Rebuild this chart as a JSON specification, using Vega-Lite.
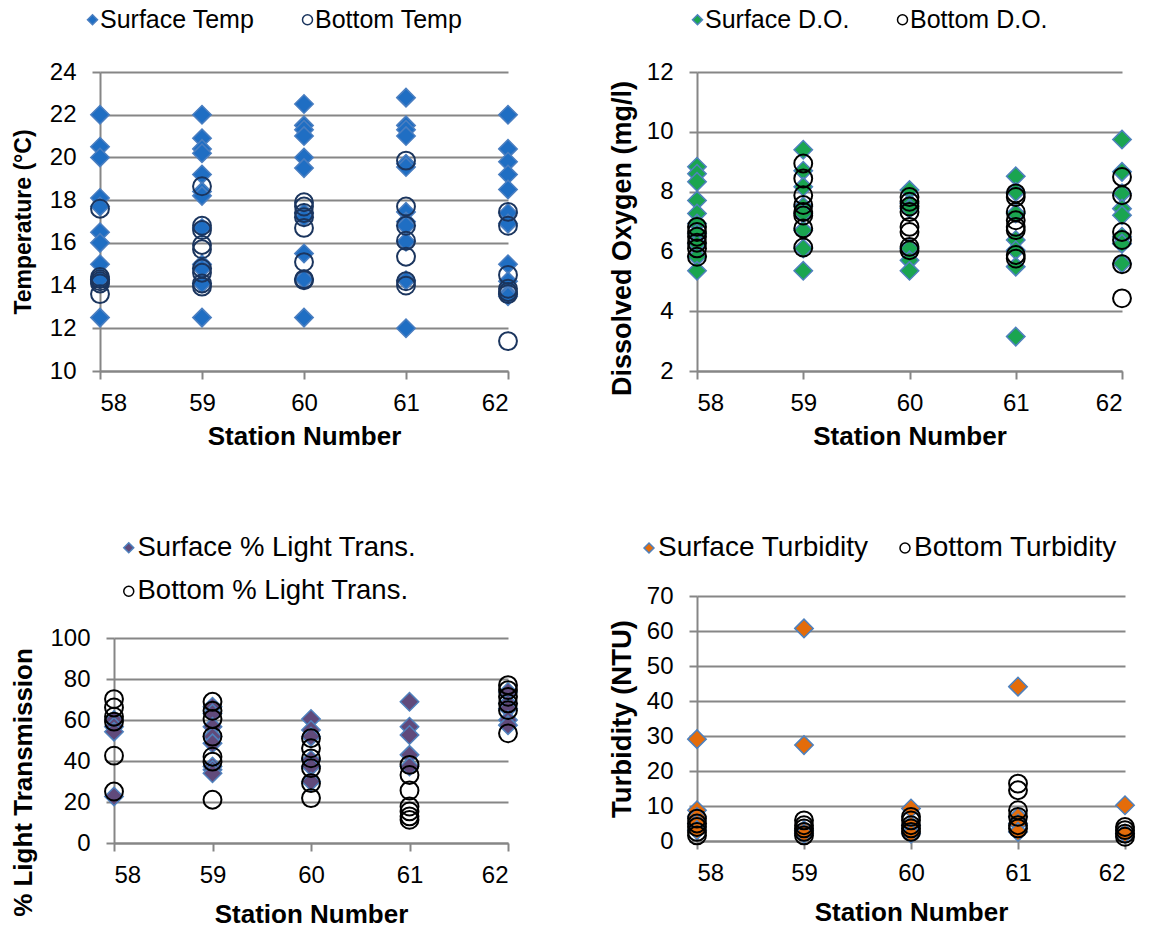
{
  "$schema": "https://vega.github.io/schema/vega-lite/v6.json",
  "background": "white",
  "padding": {"left": 10, "top": 7, "right": 0, "bottom": 0},
  "columns": 2,
  "spacing": {"row": 85, "column": 87},
  "align": "none",
  "bounds": "full",
  "resolve": {
    "scale": {"x": "independent", "y": "independent", "shape": "independent", "fill": "independent", "stroke": "independent"},
    "axis": {"x": "independent", "y": "independent"},
    "legend": {"shape": "independent", "fill": "independent", "stroke": "independent"}
  },
  "datasets": {
    "temp": [
      {"station": 58, "series": "Surface Temp", "value": 22.0},
      {"station": 58, "series": "Surface Temp", "value": 20.5},
      {"station": 58, "series": "Surface Temp", "value": 20.0},
      {"station": 58, "series": "Surface Temp", "value": 18.1},
      {"station": 58, "series": "Surface Temp", "value": 17.7},
      {"station": 58, "series": "Surface Temp", "value": 16.5},
      {"station": 58, "series": "Surface Temp", "value": 16.0},
      {"station": 58, "series": "Surface Temp", "value": 15.0},
      {"station": 58, "series": "Surface Temp", "value": 14.3},
      {"station": 58, "series": "Surface Temp", "value": 12.5},
      {"station": 59, "series": "Surface Temp", "value": 22.0},
      {"station": 59, "series": "Surface Temp", "value": 20.9},
      {"station": 59, "series": "Surface Temp", "value": 20.4},
      {"station": 59, "series": "Surface Temp", "value": 20.2},
      {"station": 59, "series": "Surface Temp", "value": 19.2},
      {"station": 59, "series": "Surface Temp", "value": 18.4},
      {"station": 59, "series": "Surface Temp", "value": 18.2},
      {"station": 59, "series": "Surface Temp", "value": 16.7},
      {"station": 59, "series": "Surface Temp", "value": 15.0},
      {"station": 59, "series": "Surface Temp", "value": 14.8},
      {"station": 59, "series": "Surface Temp", "value": 14.1},
      {"station": 59, "series": "Surface Temp", "value": 12.5},
      {"station": 60, "series": "Surface Temp", "value": 22.5},
      {"station": 60, "series": "Surface Temp", "value": 21.5},
      {"station": 60, "series": "Surface Temp", "value": 21.3},
      {"station": 60, "series": "Surface Temp", "value": 21.0},
      {"station": 60, "series": "Surface Temp", "value": 20.0},
      {"station": 60, "series": "Surface Temp", "value": 19.5},
      {"station": 60, "series": "Surface Temp", "value": 17.4},
      {"station": 60, "series": "Surface Temp", "value": 17.2},
      {"station": 60, "series": "Surface Temp", "value": 15.5},
      {"station": 60, "series": "Surface Temp", "value": 14.3},
      {"station": 60, "series": "Surface Temp", "value": 12.5},
      {"station": 61, "series": "Surface Temp", "value": 22.8},
      {"station": 61, "series": "Surface Temp", "value": 21.5},
      {"station": 61, "series": "Surface Temp", "value": 21.3},
      {"station": 61, "series": "Surface Temp", "value": 21.0},
      {"station": 61, "series": "Surface Temp", "value": 19.7},
      {"station": 61, "series": "Surface Temp", "value": 19.55},
      {"station": 61, "series": "Surface Temp", "value": 17.45},
      {"station": 61, "series": "Surface Temp", "value": 17.0},
      {"station": 61, "series": "Surface Temp", "value": 16.8},
      {"station": 61, "series": "Surface Temp", "value": 16.05},
      {"station": 61, "series": "Surface Temp", "value": 14.25},
      {"station": 61, "series": "Surface Temp", "value": 12.0},
      {"station": 62, "series": "Surface Temp", "value": 22.0},
      {"station": 62, "series": "Surface Temp", "value": 20.4},
      {"station": 62, "series": "Surface Temp", "value": 19.8},
      {"station": 62, "series": "Surface Temp", "value": 19.2},
      {"station": 62, "series": "Surface Temp", "value": 18.5},
      {"station": 62, "series": "Surface Temp", "value": 17.4},
      {"station": 62, "series": "Surface Temp", "value": 16.9},
      {"station": 62, "series": "Surface Temp", "value": 15.0},
      {"station": 62, "series": "Surface Temp", "value": 14.2},
      {"station": 62, "series": "Surface Temp", "value": 13.6},
      {"station": 62, "series": "Surface Temp", "value": 13.5},
      {"station": 58, "series": "Bottom Temp", "value": 17.6},
      {"station": 58, "series": "Bottom Temp", "value": 14.4},
      {"station": 58, "series": "Bottom Temp", "value": 14.3},
      {"station": 58, "series": "Bottom Temp", "value": 14.2},
      {"station": 58, "series": "Bottom Temp", "value": 14.1},
      {"station": 58, "series": "Bottom Temp", "value": 13.6},
      {"station": 59, "series": "Bottom Temp", "value": 18.65},
      {"station": 59, "series": "Bottom Temp", "value": 16.8},
      {"station": 59, "series": "Bottom Temp", "value": 16.6},
      {"station": 59, "series": "Bottom Temp", "value": 15.9},
      {"station": 59, "series": "Bottom Temp", "value": 15.7},
      {"station": 59, "series": "Bottom Temp", "value": 14.8},
      {"station": 59, "series": "Bottom Temp", "value": 14.6},
      {"station": 59, "series": "Bottom Temp", "value": 14.1},
      {"station": 59, "series": "Bottom Temp", "value": 13.95},
      {"station": 60, "series": "Bottom Temp", "value": 17.9},
      {"station": 60, "series": "Bottom Temp", "value": 17.7},
      {"station": 60, "series": "Bottom Temp", "value": 17.4},
      {"station": 60, "series": "Bottom Temp", "value": 17.2},
      {"station": 60, "series": "Bottom Temp", "value": 16.7},
      {"station": 60, "series": "Bottom Temp", "value": 15.1},
      {"station": 60, "series": "Bottom Temp", "value": 14.3},
      {"station": 60, "series": "Bottom Temp", "value": 14.25},
      {"station": 61, "series": "Bottom Temp", "value": 19.85},
      {"station": 61, "series": "Bottom Temp", "value": 17.7},
      {"station": 61, "series": "Bottom Temp", "value": 16.8},
      {"station": 61, "series": "Bottom Temp", "value": 16.1},
      {"station": 61, "series": "Bottom Temp", "value": 15.35},
      {"station": 61, "series": "Bottom Temp", "value": 14.2},
      {"station": 61, "series": "Bottom Temp", "value": 14.0},
      {"station": 62, "series": "Bottom Temp", "value": 17.45},
      {"station": 62, "series": "Bottom Temp", "value": 16.8},
      {"station": 62, "series": "Bottom Temp", "value": 14.5},
      {"station": 62, "series": "Bottom Temp", "value": 13.85},
      {"station": 62, "series": "Bottom Temp", "value": 13.7},
      {"station": 62, "series": "Bottom Temp", "value": 13.6},
      {"station": 62, "series": "Bottom Temp", "value": 11.4}
    ],
    "oxygen": [
      {"station": 58, "series": "Surface D.O.", "value": 8.83},
      {"station": 58, "series": "Surface D.O.", "value": 8.6},
      {"station": 58, "series": "Surface D.O.", "value": 8.33},
      {"station": 58, "series": "Surface D.O.", "value": 7.7},
      {"station": 58, "series": "Surface D.O.", "value": 7.27},
      {"station": 58, "series": "Surface D.O.", "value": 6.93},
      {"station": 58, "series": "Surface D.O.", "value": 6.6},
      {"station": 58, "series": "Surface D.O.", "value": 6.26},
      {"station": 58, "series": "Surface D.O.", "value": 5.82},
      {"station": 58, "series": "Surface D.O.", "value": 5.35},
      {"station": 59, "series": "Surface D.O.", "value": 9.4},
      {"station": 59, "series": "Surface D.O.", "value": 8.7},
      {"station": 59, "series": "Surface D.O.", "value": 8.16},
      {"station": 59, "series": "Surface D.O.", "value": 7.5},
      {"station": 59, "series": "Surface D.O.", "value": 7.27},
      {"station": 59, "series": "Surface D.O.", "value": 6.71},
      {"station": 59, "series": "Surface D.O.", "value": 6.1},
      {"station": 59, "series": "Surface D.O.", "value": 5.35},
      {"station": 60, "series": "Surface D.O.", "value": 8.05},
      {"station": 60, "series": "Surface D.O.", "value": 7.6},
      {"station": 60, "series": "Surface D.O.", "value": 7.43},
      {"station": 60, "series": "Surface D.O.", "value": 6.1},
      {"station": 60, "series": "Surface D.O.", "value": 5.7},
      {"station": 60, "series": "Surface D.O.", "value": 5.35},
      {"station": 61, "series": "Surface D.O.", "value": 8.51},
      {"station": 61, "series": "Surface D.O.", "value": 7.99},
      {"station": 61, "series": "Surface D.O.", "value": 7.27},
      {"station": 61, "series": "Surface D.O.", "value": 6.38},
      {"station": 61, "series": "Surface D.O.", "value": 6.04},
      {"station": 61, "series": "Surface D.O.", "value": 5.49},
      {"station": 61, "series": "Surface D.O.", "value": 3.15},
      {"station": 62, "series": "Surface D.O.", "value": 9.74},
      {"station": 62, "series": "Surface D.O.", "value": 8.66},
      {"station": 62, "series": "Surface D.O.", "value": 7.94},
      {"station": 62, "series": "Surface D.O.", "value": 7.43},
      {"station": 62, "series": "Surface D.O.", "value": 7.21},
      {"station": 62, "series": "Surface D.O.", "value": 6.49},
      {"station": 62, "series": "Surface D.O.", "value": 6.26},
      {"station": 62, "series": "Surface D.O.", "value": 5.6},
      {"station": 58, "series": "Bottom D.O.", "value": 6.82},
      {"station": 58, "series": "Bottom D.O.", "value": 6.65},
      {"station": 58, "series": "Bottom D.O.", "value": 6.49},
      {"station": 58, "series": "Bottom D.O.", "value": 6.29},
      {"station": 58, "series": "Bottom D.O.", "value": 6.1},
      {"station": 58, "series": "Bottom D.O.", "value": 5.82},
      {"station": 59, "series": "Bottom D.O.", "value": 8.94},
      {"station": 59, "series": "Bottom D.O.", "value": 8.44},
      {"station": 59, "series": "Bottom D.O.", "value": 7.88},
      {"station": 59, "series": "Bottom D.O.", "value": 7.55},
      {"station": 59, "series": "Bottom D.O.", "value": 7.32},
      {"station": 59, "series": "Bottom D.O.", "value": 7.2},
      {"station": 59, "series": "Bottom D.O.", "value": 6.77},
      {"station": 59, "series": "Bottom D.O.", "value": 6.13},
      {"station": 60, "series": "Bottom D.O.", "value": 7.82},
      {"station": 60, "series": "Bottom D.O.", "value": 7.66},
      {"station": 60, "series": "Bottom D.O.", "value": 7.5},
      {"station": 60, "series": "Bottom D.O.", "value": 7.32},
      {"station": 60, "series": "Bottom D.O.", "value": 6.82},
      {"station": 60, "series": "Bottom D.O.", "value": 6.65},
      {"station": 60, "series": "Bottom D.O.", "value": 6.15},
      {"station": 60, "series": "Bottom D.O.", "value": 6.04},
      {"station": 61, "series": "Bottom D.O.", "value": 7.94},
      {"station": 61, "series": "Bottom D.O.", "value": 7.82},
      {"station": 61, "series": "Bottom D.O.", "value": 7.32},
      {"station": 61, "series": "Bottom D.O.", "value": 7.04},
      {"station": 61, "series": "Bottom D.O.", "value": 6.82},
      {"station": 61, "series": "Bottom D.O.", "value": 6.71},
      {"station": 61, "series": "Bottom D.O.", "value": 5.88},
      {"station": 61, "series": "Bottom D.O.", "value": 5.76},
      {"station": 62, "series": "Bottom D.O.", "value": 8.49},
      {"station": 62, "series": "Bottom D.O.", "value": 7.88},
      {"station": 62, "series": "Bottom D.O.", "value": 6.65},
      {"station": 62, "series": "Bottom D.O.", "value": 6.38},
      {"station": 62, "series": "Bottom D.O.", "value": 5.57},
      {"station": 62, "series": "Bottom D.O.", "value": 4.43}
    ],
    "light": [
      {"station": 58, "series": "Surface % Light Trans.", "value": 60},
      {"station": 58, "series": "Surface % Light Trans.", "value": 56.7},
      {"station": 58, "series": "Surface % Light Trans.", "value": 54.3},
      {"station": 58, "series": "Surface % Light Trans.", "value": 22.7},
      {"station": 59, "series": "Surface % Light Trans.", "value": 66.5},
      {"station": 59, "series": "Surface % Light Trans.", "value": 63.2},
      {"station": 59, "series": "Surface % Light Trans.", "value": 56.7},
      {"station": 59, "series": "Surface % Light Trans.", "value": 51.9},
      {"station": 59, "series": "Surface % Light Trans.", "value": 48.6},
      {"station": 59, "series": "Surface % Light Trans.", "value": 37.3},
      {"station": 59, "series": "Surface % Light Trans.", "value": 35.7},
      {"station": 59, "series": "Surface % Light Trans.", "value": 34.0},
      {"station": 60, "series": "Surface % Light Trans.", "value": 60.5},
      {"station": 60, "series": "Surface % Light Trans.", "value": 55.1},
      {"station": 60, "series": "Surface % Light Trans.", "value": 51.9},
      {"station": 60, "series": "Surface % Light Trans.", "value": 40.5},
      {"station": 60, "series": "Surface % Light Trans.", "value": 37.3},
      {"station": 60, "series": "Surface % Light Trans.", "value": 30},
      {"station": 61, "series": "Surface % Light Trans.", "value": 68.9},
      {"station": 61, "series": "Surface % Light Trans.", "value": 56.7},
      {"station": 61, "series": "Surface % Light Trans.", "value": 52.7},
      {"station": 61, "series": "Surface % Light Trans.", "value": 43},
      {"station": 61, "series": "Surface % Light Trans.", "value": 37.3},
      {"station": 62, "series": "Surface % Light Trans.", "value": 73.7},
      {"station": 62, "series": "Surface % Light Trans.", "value": 68.0},
      {"station": 62, "series": "Surface % Light Trans.", "value": 65.6},
      {"station": 62, "series": "Surface % Light Trans.", "value": 60.0},
      {"station": 62, "series": "Surface % Light Trans.", "value": 57.5},
      {"station": 58, "series": "Bottom % Light Trans.", "value": 70.2},
      {"station": 58, "series": "Bottom % Light Trans.", "value": 66.1},
      {"station": 58, "series": "Bottom % Light Trans.", "value": 61.6},
      {"station": 58, "series": "Bottom % Light Trans.", "value": 59.2},
      {"station": 58, "series": "Bottom % Light Trans.", "value": 42.6},
      {"station": 58, "series": "Bottom % Light Trans.", "value": 25.1},
      {"station": 59, "series": "Bottom % Light Trans.", "value": 68.9},
      {"station": 59, "series": "Bottom % Light Trans.", "value": 64.5},
      {"station": 59, "series": "Bottom % Light Trans.", "value": 60.5},
      {"station": 59, "series": "Bottom % Light Trans.", "value": 51.9},
      {"station": 59, "series": "Bottom % Light Trans.", "value": 42.1},
      {"station": 59, "series": "Bottom % Light Trans.", "value": 39.7},
      {"station": 59, "series": "Bottom % Light Trans.", "value": 21.1},
      {"station": 60, "series": "Bottom % Light Trans.", "value": 51.1},
      {"station": 60, "series": "Bottom % Light Trans.", "value": 46.2},
      {"station": 60, "series": "Bottom % Light Trans.", "value": 41.3},
      {"station": 60, "series": "Bottom % Light Trans.", "value": 36.5},
      {"station": 60, "series": "Bottom % Light Trans.", "value": 29.2},
      {"station": 60, "series": "Bottom % Light Trans.", "value": 21.9},
      {"station": 61, "series": "Bottom % Light Trans.", "value": 38.1},
      {"station": 61, "series": "Bottom % Light Trans.", "value": 33.2},
      {"station": 61, "series": "Bottom % Light Trans.", "value": 25.6},
      {"station": 61, "series": "Bottom % Light Trans.", "value": 17.8},
      {"station": 61, "series": "Bottom % Light Trans.", "value": 15.4},
      {"station": 61, "series": "Bottom % Light Trans.", "value": 13.0},
      {"station": 61, "series": "Bottom % Light Trans.", "value": 11.3},
      {"station": 62, "series": "Bottom % Light Trans.", "value": 77.0},
      {"station": 62, "series": "Bottom % Light Trans.", "value": 74.6},
      {"station": 62, "series": "Bottom % Light Trans.", "value": 71.3},
      {"station": 62, "series": "Bottom % Light Trans.", "value": 68.1},
      {"station": 62, "series": "Bottom % Light Trans.", "value": 64.8},
      {"station": 62, "series": "Bottom % Light Trans.", "value": 53.5}
    ],
    "turbidity": [
      {"station": 58, "series": "Surface Turbidity", "value": 29.1},
      {"station": 58, "series": "Surface Turbidity", "value": 8.8},
      {"station": 58, "series": "Surface Turbidity", "value": 6.9},
      {"station": 58, "series": "Surface Turbidity", "value": 5.0},
      {"station": 58, "series": "Surface Turbidity", "value": 3.1},
      {"station": 59, "series": "Surface Turbidity", "value": 60.75},
      {"station": 59, "series": "Surface Turbidity", "value": 27.4},
      {"station": 59, "series": "Surface Turbidity", "value": 3.1},
      {"station": 59, "series": "Surface Turbidity", "value": 2.1},
      {"station": 60, "series": "Surface Turbidity", "value": 9.3},
      {"station": 60, "series": "Surface Turbidity", "value": 4.5},
      {"station": 60, "series": "Surface Turbidity", "value": 2.1},
      {"station": 61, "series": "Surface Turbidity", "value": 44.1},
      {"station": 61, "series": "Surface Turbidity", "value": 6.9},
      {"station": 61, "series": "Surface Turbidity", "value": 5.0},
      {"station": 61, "series": "Surface Turbidity", "value": 2.6},
      {"station": 62, "series": "Surface Turbidity", "value": 10.2},
      {"station": 62, "series": "Surface Turbidity", "value": 2.1},
      {"station": 58, "series": "Bottom Turbidity", "value": 6.4},
      {"station": 58, "series": "Bottom Turbidity", "value": 5.0},
      {"station": 58, "series": "Bottom Turbidity", "value": 4.0},
      {"station": 58, "series": "Bottom Turbidity", "value": 2.6},
      {"station": 58, "series": "Bottom Turbidity", "value": 1.6},
      {"station": 59, "series": "Bottom Turbidity", "value": 5.9},
      {"station": 59, "series": "Bottom Turbidity", "value": 4.5},
      {"station": 59, "series": "Bottom Turbidity", "value": 3.6},
      {"station": 59, "series": "Bottom Turbidity", "value": 2.6},
      {"station": 59, "series": "Bottom Turbidity", "value": 1.6},
      {"station": 60, "series": "Bottom Turbidity", "value": 6.9},
      {"station": 60, "series": "Bottom Turbidity", "value": 5.9},
      {"station": 60, "series": "Bottom Turbidity", "value": 4.5},
      {"station": 60, "series": "Bottom Turbidity", "value": 3.6},
      {"station": 60, "series": "Bottom Turbidity", "value": 2.6},
      {"station": 61, "series": "Bottom Turbidity", "value": 16.4},
      {"station": 61, "series": "Bottom Turbidity", "value": 14.5},
      {"station": 61, "series": "Bottom Turbidity", "value": 8.8},
      {"station": 61, "series": "Bottom Turbidity", "value": 6.9},
      {"station": 61, "series": "Bottom Turbidity", "value": 4.5},
      {"station": 61, "series": "Bottom Turbidity", "value": 3.6},
      {"station": 62, "series": "Bottom Turbidity", "value": 4.0},
      {"station": 62, "series": "Bottom Turbidity", "value": 3.1},
      {"station": 62, "series": "Bottom Turbidity", "value": 2.1},
      {"station": 62, "series": "Bottom Turbidity", "value": 1.2}
    ]
  },
  "concat": [
    {
      "width": 408, "height": 299,
      "data": {"name": "temp"},
      "encoding": {
        "x": {"field": "station", "type": "quantitative", "scale": {"domain": [58, 62], "nice": false, "zero": false}, "axis": {"values": [58, 59, 60, 61, 62], "format": "d", "grid": false, "title": "Station Number", "titlePadding": 8}},
        "y": {"field": "value", "type": "quantitative", "scale": {"domain": [10, 24], "nice": false, "zero": false}, "axis": {"values": [10, 12, 14, 16, 18, 20, 22, 24], "title": "Temperature (°C)", "titleFontSize": 23, "titlePadding": 14}},
        "shape": {"field": "series", "type": "nominal", "scale": {"domain": ["Surface Temp", "Bottom Temp"], "range": ["diamond", "circle"]}, "legend": {"orient": "none", "legendX": -20, "legendY": -65, "direction": "horizontal", "columns": 2, "title": null}},
        "fill": {"field": "series", "type": "nominal", "scale": {"domain": ["Surface Temp", "Bottom Temp"], "range": ["#1F6EC3", "transparent"]}},
        "stroke": {"field": "series", "type": "nominal", "scale": {"domain": ["Surface Temp", "Bottom Temp"], "range": ["#4A7EC0", "#1B355E"]}}
      },
      "layer": [
        {"transform": [{"filter": "datum.series == 'Surface Temp'"}], "mark": {"type": "point", "opacity": 1, "strokeWidth": 1.5, "size": 340}},
        {"transform": [{"filter": "datum.series == 'Bottom Temp'"}], "mark": {"type": "point", "opacity": 1, "strokeWidth": 2, "size": 320}}
      ]
    },
    {
      "width": 425, "height": 299,
      "data": {"name": "oxygen"},
      "encoding": {
        "x": {"field": "station", "type": "quantitative", "scale": {"domain": [58, 62], "nice": false, "zero": false}, "axis": {"values": [58, 59, 60, 61, 62], "format": "d", "grid": false, "title": "Station Number", "titlePadding": 8}},
        "y": {"field": "value", "type": "quantitative", "scale": {"domain": [2, 12], "nice": false, "zero": false}, "axis": {"values": [2, 4, 6, 8, 10, 12], "title": "Dissolved Oxygen (mg/l)", "titleFontSize": 27, "titlePadding": 10, "titleY": 166}},
        "shape": {"field": "series", "type": "nominal", "scale": {"domain": ["Surface D.O.", "Bottom D.O."], "range": ["diamond", "circle"]}, "legend": {"orient": "none", "legendX": -12, "legendY": -65, "direction": "horizontal", "columns": 2, "title": null}},
        "fill": {"field": "series", "type": "nominal", "scale": {"domain": ["Surface D.O.", "Bottom D.O."], "range": ["#1AA550", "transparent"]}},
        "stroke": {"field": "series", "type": "nominal", "scale": {"domain": ["Surface D.O.", "Bottom D.O."], "range": ["#4F81BD", "#000000"]}}
      },
      "layer": [
        {"transform": [{"filter": "datum.series == 'Surface D.O.'"}], "mark": {"type": "point", "opacity": 1, "strokeWidth": 1.5, "size": 340}},
        {"transform": [{"filter": "datum.series == 'Bottom D.O.'"}], "mark": {"type": "point", "opacity": 1, "strokeWidth": 2, "size": 320}}
      ]
    },
    {
      "width": 408, "height": 205,
      "data": {"name": "light"},
      "encoding": {
        "x": {"field": "station", "type": "quantitative", "scale": {"domain": [58, 62], "range": [14, 408], "nice": false, "zero": false}, "axis": {"values": [58, 59, 60, 61, 62], "format": "d", "grid": false, "title": "Station Number", "titlePadding": 14}},
        "y": {"field": "value", "type": "quantitative", "scale": {"domain": [0, 100], "nice": false}, "axis": {"values": [0, 20, 40, 60, 80, 100], "title": "% Light Transmission", "offset": -14, "titleFontSize": 26, "titlePadding": 13, "titleY": 144}},
        "shape": {"field": "series", "type": "nominal", "scale": {"domain": ["Surface % Light Trans.", "Bottom % Light Trans."], "range": ["diamond", "circle"]}, "legend": {"orient": "none", "legendX": 15, "legendY": -104, "direction": "vertical", "columns": 1, "title": null, "labelFontSize": 27.5, "rowPadding": 14.5}},
        "fill": {"field": "series", "type": "nominal", "scale": {"domain": ["Surface % Light Trans.", "Bottom % Light Trans."], "range": ["#604A7B", "transparent"]}},
        "stroke": {"field": "series", "type": "nominal", "scale": {"domain": ["Surface % Light Trans.", "Bottom % Light Trans."], "range": ["#4F81BD", "#000000"]}}
      },
      "layer": [
        {"transform": [{"filter": "datum.series == 'Surface % Light Trans.'"}], "mark": {"type": "point", "opacity": 1, "strokeWidth": 1.5, "size": 340}},
        {"transform": [{"filter": "datum.series == 'Bottom % Light Trans.'"}], "mark": {"type": "point", "opacity": 1, "strokeWidth": 2, "size": 320}}
      ]
    },
    {
      "width": 428, "height": 245,
      "data": {"name": "turbidity"},
      "encoding": {
        "x": {"field": "station", "type": "quantitative", "scale": {"domain": [58, 62], "nice": false, "zero": false}, "axis": {"values": [58, 59, 60, 61, 62], "format": "d", "grid": false, "title": "Station Number", "titlePadding": 14}},
        "y": {"field": "value", "type": "quantitative", "scale": {"domain": [0, 70], "nice": false}, "axis": {"values": [0, 10, 20, 30, 40, 50, 60, 70], "title": "Turbidity (NTU)", "titleFontSize": 27.5, "titlePadding": 10}},
        "shape": {"field": "series", "type": "nominal", "scale": {"domain": ["Surface Turbidity", "Bottom Turbidity"], "range": ["diamond", "circle"]}, "legend": {"orient": "none", "legendX": -62, "legendY": -62, "direction": "horizontal", "columns": 2, "title": null, "labelFontSize": 28, "columnPadding": 22}},
        "fill": {"field": "series", "type": "nominal", "scale": {"domain": ["Surface Turbidity", "Bottom Turbidity"], "range": ["#E46C0A", "transparent"]}},
        "stroke": {"field": "series", "type": "nominal", "scale": {"domain": ["Surface Turbidity", "Bottom Turbidity"], "range": ["#4F81BD", "#000000"]}}
      },
      "layer": [
        {"transform": [{"filter": "datum.series == 'Surface Turbidity'"}], "mark": {"type": "point", "opacity": 1, "strokeWidth": 1.5, "size": 340}},
        {"transform": [{"filter": "datum.series == 'Bottom Turbidity'"}], "mark": {"type": "point", "opacity": 1, "strokeWidth": 2, "size": 320}}
      ]
    }
  ],
  "config": {
    "font": "Liberation Sans",
    "view": {"stroke": null},
    "axis": {
      "domainColor": "#868686", "domainWidth": 2,
      "tickColor": "#868686", "tickWidth": 2, "tickSize": 8,
      "gridColor": "#868686", "gridWidth": 2,
      "labelFont": "Liberation Sans", "labelFontSize": 24, "labelColor": "#000000",
      "titleFont": "Liberation Sans", "titleFontSize": 26, "titleFontWeight": "bold", "titleColor": "#000000"
    },
    "axisX": {"labelPadding": 12},
    "axisY": {"labelPadding": 16},
    "legend": {
      "labelFont": "Liberation Sans", "labelFontSize": 25, "labelColor": "#000000", "labelLimit": 500,
      "symbolSize": 100, "symbolStrokeWidth": 1.5, "labelOffset": -5, "columnPadding": 40, "rowPadding": 18, "padding": 0
    }
  }
}
